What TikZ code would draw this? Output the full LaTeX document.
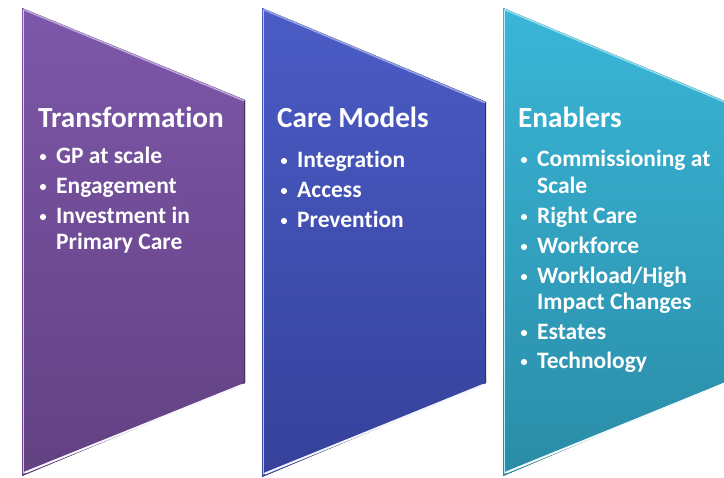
\documentclass[tikz,border=0pt]{standalone}
\usepackage{fontspec}
\setmainfont{Carlito}[Ligatures={NoCommon}]
\definecolor{pTop}{HTML}{7D57A9}
\definecolor{pBot}{HTML}{624182}
\definecolor{pHi}{HTML}{D9C6F0}
\definecolor{bTop}{HTML}{4B5CC6}
\definecolor{bBot}{HTML}{35419A}
\definecolor{bHi}{HTML}{B8C2F4}
\definecolor{cTop}{HTML}{3AB6D8}
\definecolor{cBot}{HTML}{2A8CA6}
\definecolor{cHi}{HTML}{B6EEFA}
\begin{document}
\begin{tikzpicture}[x=1pt,y=-1pt,
  ttl/.style={anchor=base west, inner sep=0pt, text=white, font=\fontsize{29.2}{33}\selectfont\bfseries},
  itm/.style={anchor=base west, inner sep=0pt, text=white, font=\fontsize{23.5}{27}\selectfont\bfseries},
  dot/.style={circle, fill=white, inner sep=0pt, minimum size=6.2pt},
  hi/.style={line width=1.6pt, line cap=round},
]
\clip (0,0) rectangle (724,478);
% ---------- shape 1 : purple ----------
\fill[top color=pTop, bottom color=pBot] (22,8) -- (245,100) -- (245,383) -- (22,476) -- cycle;
\draw[hi, pHi] (23.5,10) -- (23.5,473);
\draw[hi, pHi!70!pTop] (23.5,9.5) -- (243.5,100.5);
\draw[line width=2pt, line cap=round, white!85!pHi] (25,472.5) -- (242,385);
\draw[line width=1.2pt, pBot!75!black] (244.4,101) -- (244.4,383);
% ---------- shape 2 : blue ----------
\fill[top color=bTop, bottom color=bBot] (262,8) -- (486,102) -- (486,383) -- (262,477) -- cycle;
\draw[hi, bHi] (263.5,10) -- (263.5,474);
\draw[hi, bHi!70!bTop] (263.5,9.5) -- (484.5,102.5);
\draw[line width=2pt, line cap=round, white!85!bHi] (265,473.5) -- (483,385);
\draw[line width=1.2pt, bBot!75!black] (485.4,103) -- (485.4,383);
% ---------- shape 3 : teal ----------
\fill[top color=cTop, bottom color=cBot] (503,8) -- (727,102) -- (727,381) -- (503,476) -- cycle;
\draw[hi, cHi] (504.5,10) -- (504.5,473);
\draw[hi, cHi!70!cTop] (504.5,9.5) -- (726,102.5);
\draw[line width=2pt, line cap=round, white!85!cHi] (506,472.5) -- (726,383);
% ---------- texts : shape 1 ----------
\node[ttl] (t1) at (38,128) {Transformation};
\node[dot] (b11) at (43,157) {};
\node[itm] (i11) at (56,164) {GP at scale};
\node[dot] (b12) at (43,187) {};
\node[itm] (i12) at (56,194) {Engagement};
\node[dot] (b13) at (43,217) {};
\node[itm] (i13) at (56,224) {Investment in};
\node[itm] (i13b) at (56,250) {Primary Care};
% ---------- texts : shape 2 ----------
\node[ttl] (t2) at (277,128) {Care Models};
\node[dot] (b21) at (284,161) {};
\node[itm] (i21) at (297,168) {Integration};
\node[dot] (b22) at (284,191) {};
\node[itm] (i22) at (297,198) {Access};
\node[dot] (b23) at (284,221) {};
\node[itm] (i23) at (297,228) {Prevention};
% ---------- texts : shape 3 ----------
\node[ttl] (t3) at (518,128) {Enablers};
\node[dot] (b31) at (524,160) {};
\node[itm] (i31) at (537,167) {Commissioning at};
\node[itm] (i31b) at (537,194) {Scale};
\node[dot] (b32) at (524,217) {};
\node[itm] (i32) at (537,224) {Right Care};
\node[dot] (b33) at (524,247) {};
\node[itm] (i33) at (537,254) {Workforce};
\node[dot] (b34) at (524,277) {};
\node[itm] (i34) at (537,284) {Workload/High};
\node[itm] (i34b) at (537,310) {Impact Changes};
\node[dot] (b35) at (524,333) {};
\node[itm] (i35) at (537,340) {Estates};
\node[dot] (b36) at (524,362) {};
\node[itm] (i36) at (537,369) {Technology};
\end{tikzpicture}
\end{document}
